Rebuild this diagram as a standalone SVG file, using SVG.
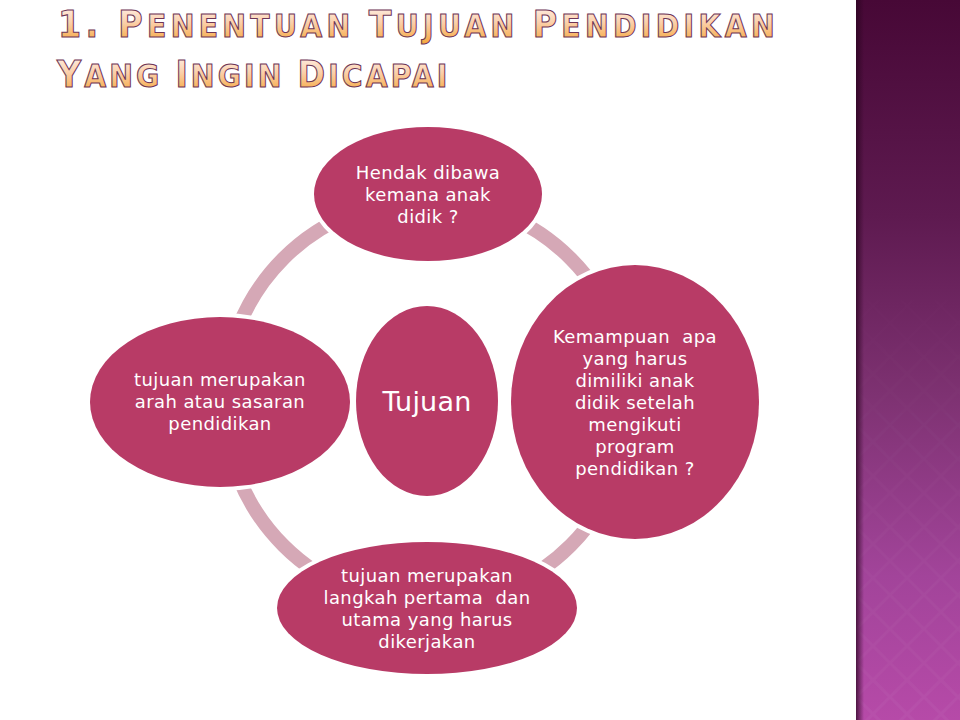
<svg xmlns="http://www.w3.org/2000/svg" width="960" height="720" viewBox="0 0 960 720">
  <defs>
    <linearGradient id="band" x1="0" y1="0" x2="0" y2="1">
      <stop offset="0" stop-color="#470836"/>
      <stop offset="0.3" stop-color="#5e1a50"/>
      <stop offset="0.55" stop-color="#7e3272"/>
      <stop offset="0.8" stop-color="#a2449a"/>
      <stop offset="1" stop-color="#b64aa8"/>
    </linearGradient>
    <linearGradient id="bandShadow" x1="0" y1="0" x2="1" y2="0">
      <stop offset="0" stop-color="#2a0420" stop-opacity="0.75"/>
      <stop offset="1" stop-color="#2a0420" stop-opacity="0"/>
    </linearGradient>
    <linearGradient id="fadeIn" x1="0" y1="0" x2="0" y2="1">
      <stop offset="0.3" stop-color="#ffffff" stop-opacity="0"/>
      <stop offset="1" stop-color="#ffffff" stop-opacity="1"/>
    </linearGradient>
    <mask id="patMask" maskUnits="userSpaceOnUse" x="856" y="0" width="104" height="720">
      <rect x="856" y="0" width="104" height="720" fill="url(#fadeIn)"/>
    </mask>
    <linearGradient id="titleFill" x1="0" y1="0" x2="0" y2="1">
      <stop offset="0" stop-color="#fff4f0"/>
      <stop offset="0.45" stop-color="#fbd0ab"/>
      <stop offset="1" stop-color="#f5a22e"/>
    </linearGradient>
    <pattern id="diamonds" width="34" height="34" patternUnits="userSpaceOnUse" x="856">
      <path d="M17 0 L34 17 L17 34 L0 17 Z" fill="none" stroke="#ffffff" stroke-opacity="0.035" stroke-width="3"/>
    </pattern>
  </defs>
  <style>
    .node { fill: #b83b66; stroke: #ffffff; stroke-width: 8; paint-order: stroke; }
    .lbl { font-family: "DejaVu Sans", "Noto Sans", sans-serif; font-size: 18px; fill: #ffffff; text-anchor: middle; letter-spacing: 0.4px; }
    .big { font-size: 27px; letter-spacing: 0.2px; }
    .title { font-family: "DejaVu Sans Condensed", "DejaVu Sans", sans-serif; font-weight: bold; fill: url(#titleFill); stroke: #6e3556; stroke-width: 1; }
    .t1 { letter-spacing: 4.3px; }
    .t2 { letter-spacing: 3.1px; }
    .cap { font-size: 37px; }
    .sc { font-size: 31.5px; }
    .ring { fill: none; stroke: #d5a8b6; stroke-width: 14; }
  </style>

  <rect x="0" y="0" width="960" height="720" fill="#ffffff"/>

  <g id="side-band">
    <rect x="856" y="0" width="104" height="720" fill="url(#band)"/>
    <rect x="856" y="0" width="104" height="720" fill="url(#diamonds)" mask="url(#patMask)"/>
    <rect x="856" y="0" width="8" height="720" fill="url(#bandShadow)"/>
  </g>

  <g id="title">
    <text class="title t1" x="58" y="37" xml:space="preserve"><tspan class="cap">1. P</tspan><tspan class="sc">ENENTUAN </tspan><tspan class="cap">T</tspan><tspan class="sc">UJUAN </tspan><tspan class="cap">P</tspan><tspan class="sc">ENDIDIKAN</tspan></text>
    <text class="title t2" x="57" y="87" xml:space="preserve"><tspan class="cap">Y</tspan><tspan class="sc">ANG </tspan><tspan class="cap">I</tspan><tspan class="sc">NGIN </tspan><tspan class="cap">D</tspan><tspan class="sc">ICAPAI</tspan></text>
  </g>

  <g id="connectors">
    <circle class="ring" cx="427" cy="402" r="203"/>
  </g>

  <g id="node-top">
    <ellipse class="node" cx="428" cy="194" rx="114" ry="67"/>
    <text class="lbl" x="428" y="179">Hendak dibawa</text>
    <text class="lbl" x="428" y="201">kemana anak</text>
    <text class="lbl" x="428" y="223">didik ?</text>
  </g>

  <g id="node-left">
    <ellipse class="node" cx="220" cy="402" rx="130" ry="85"/>
    <text class="lbl" x="220" y="386">tujuan merupakan</text>
    <text class="lbl" x="220" y="408">arah atau sasaran</text>
    <text class="lbl" x="220" y="430">pendidikan</text>
  </g>

  <g id="node-center">
    <ellipse class="node" cx="427" cy="401" rx="71" ry="95"/>
    <text class="lbl big" x="427" y="411">Tujuan</text>
  </g>

  <g id="node-right">
    <ellipse class="node" cx="635" cy="402" rx="124" ry="137"/>
    <text class="lbl" x="635" y="343" xml:space="preserve">Kemampuan  apa</text>
    <text class="lbl" x="635" y="365">yang harus</text>
    <text class="lbl" x="635" y="387">dimiliki anak</text>
    <text class="lbl" x="635" y="409">didik setelah</text>
    <text class="lbl" x="635" y="431">mengikuti</text>
    <text class="lbl" x="635" y="453">program</text>
    <text class="lbl" x="635" y="475">pendidikan ?</text>
  </g>

  <g id="node-bottom">
    <ellipse class="node" cx="427" cy="608" rx="150" ry="66"/>
    <text class="lbl" x="427" y="582">tujuan merupakan</text>
    <text class="lbl" x="427" y="604" xml:space="preserve">langkah pertama  dan</text>
    <text class="lbl" x="427" y="626">utama yang harus</text>
    <text class="lbl" x="427" y="648">dikerjakan</text>
  </g>
</svg>
